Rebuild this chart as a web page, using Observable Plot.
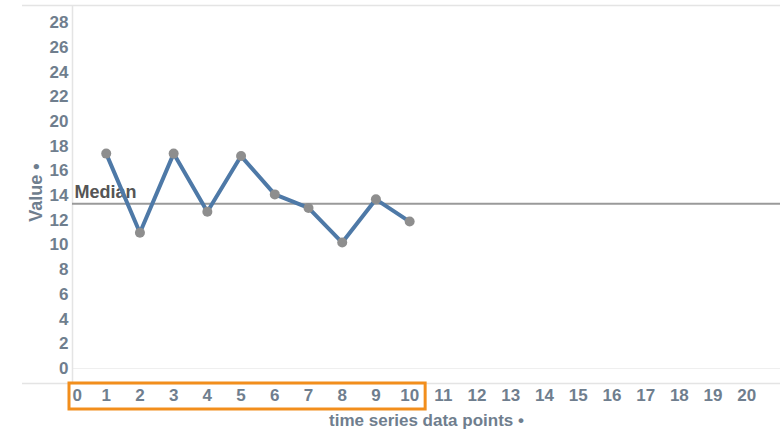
<!DOCTYPE html>
<html>
<head>
<meta charset="utf-8">
<script src="https://cdn.jsdelivr.net/npm/d3@7"></script>
<script src="https://cdn.jsdelivr.net/npm/@observablehq/plot@0.6"></script>
<style>
  html, body { margin: 0; padding: 0; background: #fff; }
  #chart svg { display: block; }
</style>
</head>
<body>
<div id="chart"></div>
<script>
// Data
const points = [1, 2, 3, 4, 5, 6, 7, 8, 9, 10];
const values = [17.4, 11.0, 17.4, 12.7, 17.2, 14.1, 13.0, 10.2, 13.7, 11.9];
const xTicks = d3.range(0, 21);
const yTicks = d3.range(0, 29, 2);
const highlightedTicks = [0, 10];
const medianLabel = "Median";
const xTitle = "time series data points";
const yTitle = "Value";

const data = points.map((p, i) => ({x: p, y: values[i]}));
const median = d3.median(values);

const labelColor = "#6f7e8e";
const font = "'Liberation Sans', Arial, sans-serif";

const chart = Plot.plot({
  width: 780,
  height: 431,
  marginLeft: 72,
  marginRight: 0,
  marginTop: 5,
  marginBottom: 48,
  style: {fontFamily: font, fontSize: "17px", fontWeight: "bold", background: "#fff", overflow: "visible"},
  x: {domain: [0, 21.0], label: null},
  y: {domain: [-1.21, 29.39], label: null},
  marks: [
    // frame lines
    Plot.ruleY([29.39], {stroke: "#e4e4e4", strokeWidth: 1.5, insetLeft: -50}),
    Plot.ruleY([-1.21], {stroke: "#e4e4e4", strokeWidth: 1.5, insetLeft: -50}),
    Plot.ruleY([0], {stroke: "#efefef", strokeWidth: 1}),
    Plot.ruleX([0], {stroke: "#e4e4e4", strokeWidth: 1.5}),
    // axes
    Plot.axisY({ticks: yTicks, tickSize: 0, tickPadding: 4, fill: labelColor, fontSize: 17, fontWeight: "bold", label: null}),
    Plot.axisX({ticks: xTicks.filter(d => d !== 0), tickSize: 0, tickPadding: 5, fill: labelColor, fontSize: 17, fontWeight: "bold", label: null}),
    Plot.axisX({ticks: [0], tickSize: 0, tickPadding: 5, textAnchor: "start", dx: 0, fill: labelColor, fontSize: 17, fontWeight: "bold", label: null}),
    // median
    Plot.ruleY([median], {stroke: "#9a9a9a", strokeWidth: 2}),
    Plot.text([medianLabel], {frameAnchor: "left", y: [median], text: d => d, textAnchor: "start", dx: 2, dy: -11, fill: "#555", fontSize: 18, fontWeight: "bold"}),
    // series
    Plot.line(data, {x: "x", y: "y", stroke: "#4e79a7", strokeWidth: 4}),
    Plot.dot(data, {x: "x", y: "y", r: 5, fill: "#8e8e8e", stroke: "none"}),
    // highlight box around 0..10 tick labels
    Plot.rect([highlightedTicks], {
      x1: d => d[0], x2: d => d[1], y1: -1.21, y2: -1.21,
      insetLeft: -3, insetRight: -16, insetTop: 0, insetBottom: -26,
      fill: "none", stroke: "#f28e1c", strokeWidth: 3
    }),
    // titles
    Plot.text([xTitle + " \u2022"], {frameAnchor: "bottom", text: d => d, textAnchor: "middle", dy: 42, fill: labelColor, fontSize: 17, fontWeight: "bold"}),
    Plot.text([yTitle + " \u2022"], {frameAnchor: "left", text: d => d, textAnchor: "middle", rotate: -90, dx: -36, dy: -2, fill: labelColor, fontSize: 18, fontWeight: "bold"})
  ]
});
document.getElementById("chart").appendChild(chart);
</script>
</body>
</html>
